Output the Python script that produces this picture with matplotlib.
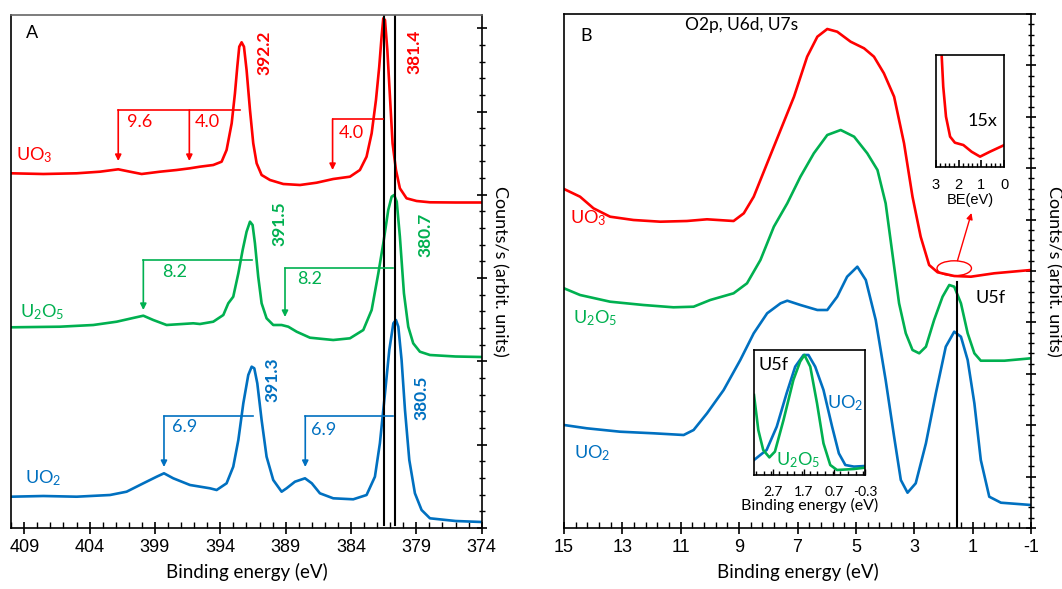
import numpy as np
import matplotlib
matplotlib.use("Agg")
import matplotlib.pyplot as plt
from matplotlib.ticker import FixedLocator, MultipleLocator, AutoMinorLocator
from matplotlib.patches import Ellipse

plt.rcParams['font.family'] = ['Lato', 'DejaVu Sans']
plt.rcParams['mathtext.fontset'] = 'custom'
plt.rcParams['mathtext.rm'] = 'Lato'
plt.rcParams['mathtext.it'] = 'Lato:italic'
plt.rcParams['mathtext.default'] = 'regular'
plt.rcParams['axes.unicode_minus'] = False

RED, GREEN, BLUE = '#FF0000', '#00B050', '#0070C0'

# ---------------- Panel A: U4f core levels ----------------
a_uo3_e = [410, 407.54, 404.99, 403.21, 401.81, 400.91, 400.02, 398.62, 397.34, 396.32, 395.56,
           394.54, 393.90, 393.52, 393.13, 392.88, 392.70, 392.55, 392.37, 392.19, 391.99, 391.73,
           391.48, 391.22, 390.84, 390.2, 389.18, 387.9, 386.63, 385.36, 384.08, 383.32, 382.81,
           382.42, 382.09, 381.84, 381.66, 381.53, 381.4, 381.22, 381.02, 380.82, 380.56, 380.26,
           379.75, 378.98, 377.96, 376, 374]
a_uo3_i = [354.7, 354, 354.7, 356.3, 358.7, 356.3, 354, 356.3, 358, 359.7, 361.3,
           363, 366.3, 378, 404.7, 434.7, 461.3, 481.3, 485.7, 481.3, 458, 418,
           384.7, 364.7, 353, 348, 344, 343, 345.3, 349, 351.3, 358, 371.3,
           394.7, 428, 461.3, 491.3, 509.7, 508, 478, 431.3, 384.7, 358, 339.7,
           329.7, 327, 325.7, 325.5, 325.5]

a_u2o5_e = [410, 406.27, 403.72, 401.93, 400.78, 399.89, 399.13, 398.11, 396.07, 395.56, 394.54,
            393.77, 393.39, 393.01, 392.62, 392.29, 391.99, 391.73, 391.53, 391.35, 391.1, 390.84,
            390.46, 389.95, 389.31, 388.8, 388.16, 387.14, 385.36, 384.08, 383.06, 382.42, 381.91,
            381.53, 381.15, 380.89, 380.7, 380.5, 380.26, 379.95, 379.62, 379.24, 378.73, 377.96,
            376, 374]
a_u2o5_i = [200.7, 201.3, 203, 206.3, 209.7, 212.3, 208, 203, 204.7, 204, 206.3,
            213, 224.7, 231.3, 254.7, 278, 296.3, 306.3, 303, 284.7, 251.3, 224.7,
            209.7, 203, 203, 201.3, 196.3, 190.3, 188, 189.7, 198, 218, 254.7,
            284.7, 318, 331.3, 333, 326.3, 291.3, 234.7, 201.3, 184.7, 176.3, 173,
            171.5, 171]

a_uo2_e = [410, 407.54, 404.99, 402.44, 401.17, 399.89, 398.87, 398.31, 397.6, 396.32, 394.79,
           394.28, 393.52, 393.01, 392.62, 392.24, 391.86, 391.6, 391.4, 391.17, 390.84, 390.46,
           389.95, 389.31, 388.93, 388.29, 387.52, 387.0, 386.38, 385.36, 383.83, 382.81, 382.17,
           381.79, 381.4, 381.07, 380.76, 380.56, 380.38, 380.13, 379.87, 379.54, 379.11, 378.6,
           377.96, 376, 374]
a_uo2_i = [31.3, 32, 31.3, 33, 36.3, 44.7, 51.3, 54.7, 49.7, 43, 39.7,
           38, 44.7, 61.3, 88, 124.7, 153, 161.3, 159.7, 144.7, 108, 71.3,
           48, 36.3, 39.7, 46.3, 49.7, 44.7, 34.7, 29.7, 28.7, 33, 51.3,
           84.7, 134.7, 178, 204.7, 208, 201.3, 168, 118, 68, 34.7, 18,
           9.7, 7, 6]

a_ticks = [409, 404, 399, 394, 389, 384, 379, 374]
a_vlines = [381.48, 380.61]

# ---------------- Panel B: valence band ----------------
b_uo3_e = [15.0, 14.45, 13.99, 13.42, 12.62, 11.70, 10.79, 10.1, 9.19, 8.84, 8.5, 8.04, 7.58,
           7.12, 6.67, 6.32, 5.98, 5.64, 5.18, 4.72, 4.38, 4.04, 3.69, 3.35, 3.06, 2.78, 2.49,
           2.2, 1.63, 1.06, 0.26, -1.0]
b_uo3_i = [339, 331.3, 319.7, 311.3, 308, 306.3, 307, 308.7, 307, 314.7, 331.3, 364.7, 398,
           431.3, 471.3, 491.3, 499, 496.3, 486.3, 479.7, 471.3, 454.7, 431.3, 384.7, 331.3, 291.3, 263,
           255.7, 252, 251.3, 254.7, 258]

b_u2o5_e = [15.0, 14.45, 13.42, 12.28, 11.25, 10.56, 9.99, 9.19, 8.73, 8.27, 7.81, 7.35, 6.9,
            6.44, 5.98, 5.52, 5.06, 4.61, 4.26, 3.98, 3.75, 3.52, 3.29, 3.06, 2.83, 2.6, 2.32,
            2.03, 1.8, 1.63, 1.4, 1.17, 0.94, 0.72, -0.09, -1.0]
b_u2o5_i = [239.7, 233, 226.3, 223, 220.7, 221.3, 228, 234.7, 244.7, 268, 301.3, 324.7, 351.3,
            374.7, 393, 398, 391.3, 374.7, 358, 324.7, 274.7, 224.7, 194.7, 178, 174.7, 181.3, 208,
            231.3, 243, 241.3, 224.7, 194.7, 174.7, 167.3, 167.3, 169.7]

b_uo2_e = [15.0, 14.22, 13.08, 11.93, 10.9, 10.56, 10.1, 9.53, 8.96, 8.5, 8.04, 7.58, 7.35,
           6.9, 6.32, 5.98, 5.64, 5.3, 4.95, 4.66, 4.32, 3.98, 3.69, 3.46, 3.23, 2.95, 2.6,
           2.26, 1.92, 1.63, 1.4, 1.17, 0.94, 0.72, 0.43, 0.03, -1.0]
b_uo2_i = [103, 99.7, 96.3, 94.7, 93, 98, 114.7, 138, 168, 194.7, 214.7, 224.7, 227.3,
           223, 218, 218, 231.3, 251.3, 261.3, 248, 208, 148, 91.3, 48, 35.3, 44.7, 84.7,
           134.7, 181.3, 196.3, 191.3, 168, 124.7, 68, 31.3, 25.3, 23]

b_ticks = [15, 13, 11, 9, 7, 5, 3, 1, -1]
b_vline = 1.54

# inset 1: UO3 near the Fermi level (15x)
i1_e = [2.74, 2.67, 2.55, 2.37, 2.16, 1.79, 1.43, 1.06, 0.63, 0.0]
i1_i = [100, 71.6, 44.8, 26.9, 21.5, 19.4, 13.4, 9.0, 13.4, 19.4]
i1_ticks = [3, 2, 1, 0]

# inset 2: U5f peaks
i2_uo2_e = [3.31, 2.9, 2.57, 2.25, 1.97, 1.7, 1.54, 1.32, 1.05, 0.77, 0.55, 0.34, 0.06, -0.3]
i2_uo2_i = [12, 20, 38.7, 65.3, 86.7, 96, 96, 86.7, 68, 38.7, 17.3, 8, 6.7, 7.2]
i2_u2o5_e = [3.31, 3.17, 3.01, 2.81, 2.63, 2.35, 2.03, 1.81, 1.67, 1.48, 1.26, 1.05, 0.83,
             0.61, 0.06, -0.3]
i2_u2o5_i = [64, 36, 20, 14.1, 18.7, 44, 76, 90.7, 96, 86.7, 57.3, 25.3, 8, 4, 4.8, 5.9]
i2_ticks = [2.7, 1.7, 0.7, -0.3]

LW = 1.9
fig = plt.figure(figsize=(10.62, 5.89), dpi=100)

# ======== Panel A ========
axA = fig.add_axes([11.2/1062, 61/589, 470.5/1062, 513/589])
axA.plot(a_uo3_e, a_uo3_i, color=RED, lw=LW)
axA.plot(a_u2o5_e, a_u2o5_i, color=GREEN, lw=LW)
axA.plot(a_uo2_e, a_uo2_i, color=BLUE, lw=LW)
for xv in a_vlines:
    axA.plot([xv, xv], [3, 513], color='black', lw=1.5)
axA.set_xlim(410, 374)
axA.set_ylim(0, 513)
axA.xaxis.set_major_locator(FixedLocator(a_ticks))
axA.xaxis.set_minor_locator(MultipleLocator(1))
axA.yaxis.tick_right()
axA.yaxis.set_major_locator(MultipleLocator(83.3))
axA.yaxis.set_minor_locator(AutoMinorLocator(5))
axA.tick_params(axis='x', which='major', direction='inout', length=8, width=1.2,
                labelsize=13, labelfontfamily='Liberation Sans', pad=4)
axA.tick_params(axis='x', which='minor', direction='in', length=4, width=1.0)
axA.tick_params(axis='y', which='major', direction='inout', length=7, width=1.2, labelright=False)
axA.tick_params(axis='y', which='minor', direction='inout', length=4, width=1.0, labelright=False)
for s in axA.spines.values():
    s.set_linewidth(1.2)
axA.spines['top'].set_color('#666666')
axA.set_xlabel('Binding energy (eV)', fontsize=13.5, labelpad=5)
axA.text(1.039, 0.5, 'Counts/s (arbit. units)', transform=axA.transAxes, rotation=270,
         ha='center', va='center', fontsize=13)
axA.text(0.045, 0.965, 'A', transform=axA.transAxes, fontsize=13, ha='center', va='center')

ARW = dict(arrowstyle='-|>', lw=1.2, shrinkA=0, shrinkB=0, mutation_scale=9)

def bracket(ax, x1, x2, ytop, ybot, color):
    ax.plot([x1, x2], [ytop, ytop], color=color, lw=1.2)
    ax.annotate('', xy=(x1, ybot), xytext=(x1, ytop), arrowprops=dict(ARW, color=color))

bracket(axA, 401.81, 392.5, 418, 367, RED)
axA.annotate('', xy=(396.37, 367), xytext=(396.37, 418), arrowprops=dict(ARW, color=RED))
bracket(axA, 385.41, 381.53, 409, 358, RED)
bracket(axA, 399.89, 391.6, 268, 218, GREEN)
bracket(axA, 389.05, 380.76, 260, 211, GREEN)
bracket(axA, 398.31, 391.51, 112, 61, BLUE)
bracket(axA, 387.5, 380.78, 112, 61, BLUE)

fs_n = 13
axA.text(400.18, 406, '9.6', color=RED, fontsize=fs_n, ha='center', va='center')
axA.text(395.03, 406, '4.0', color=RED, fontsize=fs_n, ha='center', va='center')
axA.text(383.95, 395, '4.0', color=RED, fontsize=fs_n, ha='center', va='center')
axA.text(397.52, 256, '8.2', color=GREEN, fontsize=fs_n, ha='center', va='center')
axA.text(387.19, 249, '8.2', color=GREEN, fontsize=fs_n, ha='center', va='center')
axA.text(396.7, 101, '6.9', color=BLUE, fontsize=fs_n, ha='center', va='center')
axA.text(386.11, 98, '6.9', color=BLUE, fontsize=fs_n, ha='center', va='center')

for (xx, yy, t, c) in [(390.66, 474.7, '392.2', RED), (379.18, 476.3, '381.4', RED),
                       (389.49, 304.7, '391.5', GREEN), (378.27, 293, '380.7', GREEN),
                       (390.0, 148, '391.3', BLUE), (378.6, 129.7, '380.5', BLUE)]:
    axA.text(xx, yy, t, color=c, fontsize=12.5, fontweight='bold', rotation=90,
             ha='center', va='center')

axA.text(408.26, 373, 'UO$_3$', color=RED, fontsize=13, ha='center', va='center')
axA.text(407.62, 216.3, 'U$_2$O$_5$', color=GREEN, fontsize=13, ha='center', va='center')
axA.text(407.54, 49.7, 'UO$_2$', color=BLUE, fontsize=13, ha='center', va='center')

# ======== Panel B ========
axB = fig.add_axes([564/1062, 61/589, 467/1062, 514/589])
axB.plot(b_uo3_e, b_uo3_i, color=RED, lw=LW)
axB.plot(b_u2o5_e, b_u2o5_i, color=GREEN, lw=LW)
axB.plot(b_uo2_e, b_uo2_i, color=BLUE, lw=LW)
axB.plot([b_vline, b_vline], [0, 246], color='black', lw=1.5)
axB.set_xlim(15, -1)
axB.set_ylim(0, 514)
axB.xaxis.set_major_locator(FixedLocator(b_ticks))
axB.xaxis.set_minor_locator(FixedLocator(np.arange(-1, 15.01, 0.4)))
axB.yaxis.tick_right()
axB.yaxis.set_major_locator(MultipleLocator(51.4))
axB.yaxis.set_minor_locator(AutoMinorLocator(5))
axB.tick_params(axis='x', which='major', direction='inout', length=8, width=1.2,
                labelsize=13, labelfontfamily='Liberation Sans', pad=4)
axB.tick_params(axis='x', which='minor', direction='in', length=4, width=1.0)
axB.tick_params(axis='y', which='major', direction='inout', length=7, width=1.2, labelright=False)
axB.tick_params(axis='y', which='minor', direction='inout', length=4, width=1.0, labelright=False)
for s in axB.spines.values():
    s.set_linewidth(1.2)
axB.set_xlabel('Binding energy (eV)', fontsize=13.5, labelpad=5)
axB.text(1.049, 0.5, 'Counts/s (arbit. units)', transform=axB.transAxes, rotation=270,
         ha='center', va='center', fontsize=13)
axB.text(14.24, 492, 'B', fontsize=13, ha='center', va='center')
axB.text(8.9, 503, 'O2p, U6d, U7s', fontsize=12.5, ha='center', va='center')
axB.text(14.17, 309.7, 'UO$_3$', color=RED, fontsize=13, ha='center', va='center')
axB.text(13.94, 209.7, 'U$_2$O$_5$', color=GREEN, fontsize=13, ha='center', va='center')
axB.text(14.03, 75.3, 'UO$_2$', color=BLUE, fontsize=13, ha='center', va='center')
axB.text(0.37, 229.7, 'U5f', fontsize=13, ha='center', va='center')
axB.add_patch(Ellipse((1.63, 259.7), 1.18, 15, fill=False, edgecolor=RED, lw=1.0))
axB.annotate('', xy=(1.04, 315), xytext=(1.52, 267.3),
             arrowprops=dict(ARW, color=RED, lw=1.0))

# inset 1
ax1 = fig.add_axes([935.7/1062, 422.3/589, 68.6/1062, 111.7/589])
ax1.plot(i1_e, i1_i, color=RED, lw=LW)
ax1.set_xlim(3, 0)
ax1.set_ylim(0, 100)
ax1.set_yticks([])
ax1.xaxis.set_major_locator(FixedLocator(i1_ticks))
ax1.xaxis.set_minor_locator(MultipleLocator(0.2))
ax1.tick_params(axis='x', which='major', direction='in', length=5, width=1.2,
                labelsize=10.5, labelfontfamily='Liberation Sans', pad=8)
ax1.tick_params(axis='x', which='minor', direction='in', length=3, width=1.0)
for s in ax1.spines.values():
    s.set_linewidth(1.2)
ax1.set_xlabel('BE(eV)', fontsize=10.5, labelpad=1, fontfamily='Liberation Sans')
ax1.text(0.685, 0.41, '15x', transform=ax1.transAxes, fontsize=13, ha='center', va='center')

# inset 2
ax2 = fig.add_axes([754/1062, 114/589, 111/1062, 125/589])
ax2.plot(i2_uo2_e, i2_uo2_i, color=BLUE, lw=LW)
ax2.plot(i2_u2o5_e, i2_u2o5_i, color=GREEN, lw=LW)
ax2.set_xlim(3.31, -0.3)
ax2.set_ylim(0, 100)
ax2.set_yticks([])
ax2.xaxis.set_major_locator(FixedLocator(i2_ticks))
ax2.xaxis.set_minor_locator(MultipleLocator(0.25))
ax2.tick_params(axis='x', which='major', direction='in', length=4, width=1.0,
                labelsize=10, pad=8)
ax2.tick_params(axis='x', which='minor', direction='in', length=3, width=1.0)
for s in ax2.spines.values():
    s.set_linewidth(1.2)
ax2.set_xlabel('Binding energy (eV)', fontsize=11.5, labelpad=0)
ax2.text(0.174, 0.88, 'U5f', transform=ax2.transAxes, fontsize=13, ha='center', va='center')
ax2.text(0.82, 0.574, 'UO$_2$', transform=ax2.transAxes, color=BLUE, fontsize=13,
         ha='center', va='center')
ax2.text(0.40, 0.12, 'U$_2$O$_5$', transform=ax2.transAxes, color=GREEN, fontsize=13,
         ha='center', va='center')

fig.savefig('out.png', dpi=100)
